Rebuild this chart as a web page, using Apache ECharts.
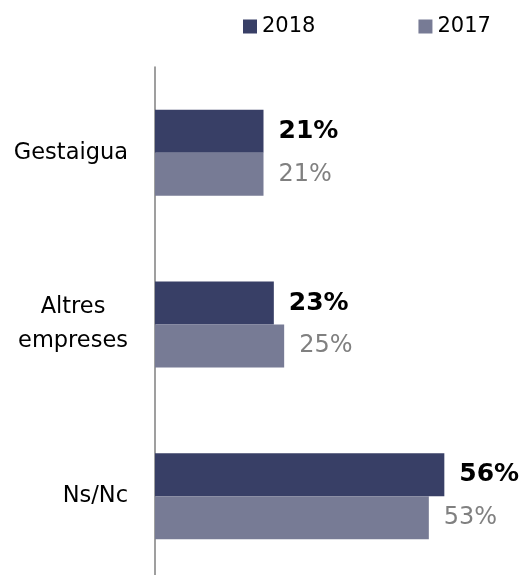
<!DOCTYPE html>
<html>
<head>
<meta charset="utf-8">
<script src="https://cdn.jsdelivr.net/npm/echarts@6/dist/echarts.min.js"></script>
<style>
  html, body { margin: 0; padding: 0; background: #fff; }
  #chart { width: 532px; height: 575px; }
</style>
</head>
<body>
<div id="chart"></div>
<script>
// values (%)
const categories = ['Gestaigua', 'Altres\nempreses', 'Ns/Nc'];
const values2018 = [21, 23, 56];
const values2017 = [21, 25, 53];
const seriesNames = ['2018', '2017'];

const FONT = 'DejaVu Sans';

const chart = echarts.init(document.getElementById('chart'));

const option = {
  animation: false,
  textStyle: { fontFamily: FONT },
  legend: {
    data: seriesNames,
    left: 238,
    top: 11,
    icon: 'rect',
    itemWidth: 14,
    itemHeight: 14,
    itemGap: 103,
    textStyle: { fontFamily: FONT, fontSize: 21, color: '#000' }
  },
  grid: {
    left: 155,
    top: 67,
    width: 310,
    height: 515,
    outerBoundsMode: 'none'
  },
  xAxis: {
    type: 'value',
    min: 0,
    max: 60,
    show: false
  },
  yAxis: {
    type: 'category',
    data: categories,
    inverse: true,
    axisLine: { show: true, lineStyle: { color: '#7f7f7f', width: 1.5 } },
    axisTick: { show: false },
    axisLabel: {
      margin: 27,
      formatter: function (v) {
        return v.split('\n').map(function (s) { return '{c|' + s + '}'; }).join('\n');
      },
      rich: {
        c: { fontFamily: FONT, fontSize: 22.5, color: '#000', align: 'center', lineHeight: 34 }
      }
    }
  },
  series: [
    {
      name: seriesNames[0],
      type: 'bar',
      data: values2018,
      barWidth: 43,
      barGap: '0%',
      itemStyle: { color: '#383f66' },
      label: {
        show: true,
        position: 'right',
        distance: 15,
        formatter: '{c}%',
        fontFamily: FONT,
        fontSize: 25,
        fontWeight: 'bold',
        color: '#000'
      }
    },
    {
      name: seriesNames[1],
      type: 'bar',
      data: values2017,
      barWidth: 43,
      barGap: '0%',
      itemStyle: { color: '#777b95' },
      label: {
        show: true,
        position: 'right',
        distance: 15,
        formatter: '{c}%',
        fontFamily: FONT,
        fontSize: 24,
        color: '#808080'
      }
    }
  ]
};

chart.setOption(option);
</script>
</body>
</html>
